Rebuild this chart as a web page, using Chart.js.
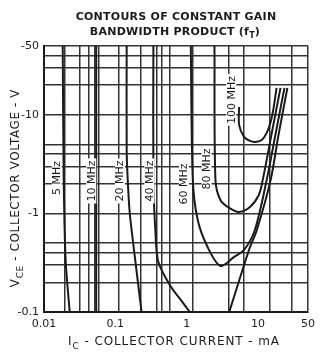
<!DOCTYPE html>
<html lang="en">
<head>
<meta charset="UTF-8">
<title>Contours of constant gain bandwidth product</title>
<style>
  html, body { margin: 0; padding: 0; background: #fff; }
  canvas { display: block; }
</style>
</head>
<body>
<canvas id="ftChart" width="321" height="355"></canvas>
<script src="https://cdn.jsdelivr.net/npm/chart.js"></script>
<script>
// each contour: collector current (mA) and |VCE| (V)
const f5Ic = [0.0183, 0.0189, 0.0201, 0.0229];
const f5Vce = [50, 2.19, 0.337, 0.1];
const f10Ic = [0.0539, 0.0539];
const f10Vce = [50, 0.1];
const f20Ic = [0.144, 0.144, 0.149, 0.159, 0.192, 0.233];
const f20Vce = [50, 4.41, 2.19, 1.011, 0.314, 0.1];
const f40LeftIc = [0.341, 0.341, 0.363, 0.4, 0.604, 0.83, 1.105];
const f40LeftVce = [50, 2.19, 0.68, 0.322, 0.179, 0.132, 0.1];
const f40RightIc = [3.94, 7.45, 9.6, 14.98, 19.32, 25.72];
const f40RightVce = [0.1, 0.426, 0.68, 2.19, 6.261, 18.78];
const f60Ic = [1.14, 1.216, 1.425, 1.958, 2.961, 4.62, 6.35, 9.008, 13.19, 17.56, 23.38];
const f60Vce = [50, 2.19, 0.859, 0.457, 0.293, 0.362, 0.426, 0.68, 2.19, 6.41, 18.78];
const f80Ic = [2.446, 2.525, 2.961, 3.941, 5.417, 7.687, 10.23, 11.61, 15.46, 20.59];
const f80Vce = [50, 2.19, 1.37, 1.137, 1.035, 1.163, 1.54, 2.19, 6.41, 18.78];
const f100Ic = [5.417, 5.417, 6.35, 7.687, 9.008, 11.25, 13.19, 14.98, 16.48, 18.13];
const f100Vce = [12.04, 7.909, 5.975, 5.44, 5.315, 5.569, 6.56, 8.485, 11.77, 18.78];

// contour labels and where they sit
const contourNames = ['5 MHz', '10 MHz', '20 MHz', '40 MHz', '60 MHz', '80 MHz', '100 MHz'];
const labelIc = [0.01512, 0.046, 0.1156, 0.3001, 0.9131, 1.897, 4.201];
const labelVce = [2.292, 2.136, 2.136, 2.136, 1.992, 2.828, 14.18];

// grid lines and tick labels
const xGrid = [0.0195, 0.0314, 0.0418, 0.0506, 0.0594, 0.112, 0.225, 0.376, 0.44, 0.585, 1.22, 3.94, 6.35, 14.5, 29.3];
const yGrid = [0.2, 0.3, 0.4, 0.5, 1, 2, 3, 4, 5, 10, 20, 30, 40];
const xTickLabels = [0.01, 0.1, 1, 10, 50];
const yTickLabels = [0.1, 1, 10, 50];

const FONT = '"DejaVu Sans", sans-serif';
const INK = '#1a1a1a';

function pts(xs, ys) {
    return xs.map((x, i) => ({ x: x, y: ys[i] }));
}

const curves = [
    [f5Ic, f5Vce], [f10Ic, f10Vce], [f20Ic, f20Vce],
    [f40LeftIc, f40LeftVce], [f40RightIc, f40RightVce],
    [f60Ic, f60Vce], [f80Ic, f80Vce], [f100Ic, f100Vce]
];

const datasets = curves.map(c => ({
    data: pts(c[0], c[1]),
    showLine: true,
    borderColor: INK,
    borderWidth: 2,
    pointRadius: 0,
    tension: 0.3,
    fill: false
}));

function tickList(grid, labels) {
    return Array.from(new Set(grid.concat(labels))).sort((a, b) => a - b);
}
const xTicks = tickList(xGrid, xTickLabels);
const yTicks = tickList(yGrid, yTickLabels);

// draw text pieces with subscripts, centred on (cx, cy)
function richText(ctx, parts, cx, cy, size, weight, spacing) {
    ctx.letterSpacing = spacing + 'px';
    let total = 0;
    parts.forEach(p => {
        ctx.font = weight + ' ' + (p.sub ? Math.round(size * 0.75) : size) + 'px ' + FONT;
        p.w = ctx.measureText(p.t).width;
        total += p.w;
    });
    let x = cx - total / 2;
    ctx.textAlign = 'left';
    ctx.textBaseline = 'middle';
    parts.forEach(p => {
        ctx.font = weight + ' ' + (p.sub ? Math.round(size * 0.75) : size) + 'px ' + FONT;
        ctx.fillText(p.t, x, cy + (p.sub ? size * 0.35 : 0));
        x += p.w;
    });
    ctx.letterSpacing = '0px';
}

const annotate = {
    id: 'annotate',
    afterDatasetsDraw(chart) {
        const ctx = chart.ctx;
        const xs = chart.scales.x, ys = chart.scales.y;
        ctx.save();
        ctx.font = '11px ' + FONT;
        ctx.textAlign = 'center';
        ctx.textBaseline = 'middle';
        contourNames.forEach((name, i) => {
            const px = xs.getPixelForValue(labelIc[i]);
            const py = ys.getPixelForValue(labelVce[i]);
            const w = ctx.measureText(name).width;
            ctx.save();
            ctx.translate(px, py);
            ctx.rotate(-Math.PI / 2);
            ctx.fillStyle = '#fff';
            ctx.fillRect(-w / 2 - 2, -5, w + 4, 10);
            ctx.fillStyle = INK;
            ctx.fillText(name, 0, 0.5);
            ctx.restore();
        });
        ctx.restore();
    },
    afterDraw(chart) {
        const ctx = chart.ctx;
        ctx.save();
        ctx.fillStyle = INK;
        richText(ctx, [{ t: 'CONTOURS OF CONSTANT GAIN' }], 176, 17, 11, 'bold', 0.25);
        richText(ctx, [{ t: 'BANDWIDTH PRODUCT (f' }, { t: 'T', sub: true }, { t: ')' }], 175, 32, 11, 'bold', 0.25);
        richText(ctx, [{ t: 'I' }, { t: 'C', sub: true }, { t: ' - COLLECTOR CURRENT - mA' }], 174, 342, 12, 'normal', 0.9);
        ctx.translate(16, 188);
        ctx.rotate(-Math.PI / 2);
        richText(ctx, [{ t: 'V' }, { t: 'CE', sub: true }, { t: ' - COLLECTOR VOLTAGE - V' }], 0, 0, 12, 'normal', 0.6);
        ctx.restore();
    }
};

function gridColor(ctx, grid, ends) {
    const v = ctx.tick.value;
    return (grid.includes(v) || ends.includes(v)) ? '#333' : 'rgba(0,0,0,0)';
}

new Chart(document.getElementById('ftChart'), {
    type: 'scatter',
    data: { datasets: datasets },
    options: {
        responsive: false,
        animation: false,
        layout: { padding: { top: 46, right: 9, left: 0, bottom: 0 } },
        plugins: { legend: { display: false }, tooltip: { enabled: false } },
        scales: {
            x: {
                type: 'logarithmic',
                min: 0.01,
                max: 50,
                afterBuildTicks: s => { s.ticks = xTicks.map(v => ({ value: v })); },
                afterFit: s => { s.height = 43; },
                ticks: {
                    autoSkip: false, maxRotation: 0, minRotation: 0, padding: 6,
                    color: INK, font: { family: FONT, size: 11 },
                    callback: v => xTickLabels.includes(v) ? String(v) : ''
                },
                grid: { color: c => gridColor(c, xGrid, [0.01, 50]), lineWidth: 1.5, drawTicks: false },
                border: { color: INK, width: 2 }
            },
            y: {
                type: 'logarithmic',
                min: 0.1,
                max: 50,
                afterBuildTicks: s => { s.ticks = yTicks.map(v => ({ value: v })); },
                afterFit: s => { s.width = 44; },
                ticks: {
                    autoSkip: false, padding: 5,
                    color: INK, font: { family: FONT, size: 11 },
                    callback: v => yTickLabels.includes(v) ? '-' + v : ''
                },
                grid: { color: c => gridColor(c, yGrid, [0.1, 50]), lineWidth: 1.5, drawTicks: false },
                border: { color: INK, width: 2 }
            }
        }
    },
    plugins: [annotate]
});
</script>
</body>
</html>
